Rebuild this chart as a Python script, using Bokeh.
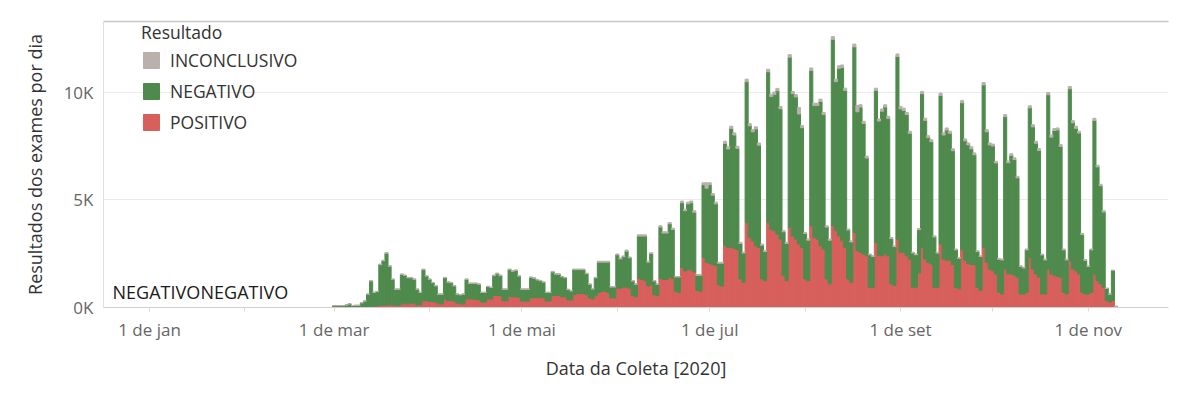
import pandas as pd
from bokeh.plotting import figure
from bokeh.models import (Range1d, FixedTicker, CustomJSTickFormatter, Legend, LegendItem,
                          LinearAxis, Label, ColumnDataSource)
from bokeh.embed import file_html
from bokeh.resources import INLINE

# ---------------- data (daily results, 2020-03-01 .. 2020-11-10) ----------------
start_date = "2020-03-01"
end_date = "2020-11-10"

positivo = [
    0,
    0, 0, 0, 0, 0, 0, 0,
    10, 20, 30, 40, 50, 60, 70,
    100, 100, 120, 120, 120, 100, 100,
    170, 170, 170, 200, 200, 120, 120,
    320, 320, 280, 280, 250, 170, 170,
    400, 320, 320, 300, 200, 170, 170,
    400, 400, 400, 380, 360, 250, 250,
    400, 400, 560, 560, 560, 320, 320,
    520, 500, 500, 480, 300, 300, 300,
    460, 460, 460, 460, 460, 300, 300,
    560, 560, 560, 500, 500, 350, 350,
    600, 650, 650, 650, 600, 450, 400,
    550, 700, 750, 750, 700, 450, 450,
    900, 900, 950, 950, 900, 550, 500,
    1360, 1300, 1250, 1000, 1050, 600, 550,
    1350, 1300, 1300, 1400, 1350, 750, 700,
    1860, 1700, 1750, 1750, 1650, 800, 750,
    2330, 2100, 2050, 2000, 1950, 1050, 1000,
    2870, 2800, 2800, 2750, 2700, 1330, 1170,
    3950, 3260, 3100, 2870, 2790, 1330, 1250,
    3950, 3640, 3570, 3410, 3180, 1480, 1250,
    3720, 3330, 3180, 2950, 2790, 1330, 1250,
    3800, 3260, 3180, 2870, 2720, 1330, 1100,
    3800, 3570, 3330, 3100, 2790, 1330, 1170,
    3490, 2640, 2570, 2490, 2410, 940, 940,
    3020, 2410, 2410, 2490, 2410, 1100, 1020,
    3180, 2570, 2570, 2410, 2250, 940, 940,
    1600, 2790, 2250, 2100, 2020, 940, 940,
    2950, 2250, 2200, 2200, 2000, 940, 870,
    2680, 2200, 2050, 2000, 2000, 940, 800,
    2790, 2100, 1790, 1710, 1560, 710, 630,
    1790, 1560, 1560, 1500, 1410, 630, 630,
    710, 2330, 1790, 1560, 1410, 630, 630,
    1790, 1560, 1500, 1450, 1410, 710, 630,
    2170, 1790, 1710, 1560, 710, 630, 630,
    710, 1560, 1250, 1100, 940, 330, 250,
    330, 50,
]

negativo = [
    90,
    90, 90, 90, 120, 170, 90, 100,
    90, 200, 270, 580, 1180, 640, 670,
    1890, 2070, 2400, 1800, 1190, 750, 750,
    1370, 1320, 1210, 1180, 1110, 730, 580,
    1440, 1140, 1030, 870, 750, 450, 450,
    980, 860, 830, 700, 420, 420, 450,
    910, 720, 720, 740, 720, 450, 450,
    570, 530, 920, 1010, 920, 530, 530,
    1240, 1180, 1220, 980, 550, 550, 550,
    940, 900, 820, 780, 720, 400, 400,
    1090, 990, 980, 930, 880, 490, 420,
    1160, 1110, 1110, 1110, 970, 630, 460,
    830, 1410, 1360, 1360, 1410, 500, 500,
    1550, 1360, 1410, 1670, 1410, 680, 580,
    1960, 2020, 2070, 1110, 1460, 630, 530,
    2390, 2160, 2160, 2490, 2280, 670, 720,
    3010, 2800, 3070, 3120, 2780, 700, 750,
    3380, 3450, 3660, 3220, 2870, 1010, 1060,
    4760, 4570, 5530, 5270, 4700, 1650, 1360,
    6550, 5190, 5070, 5430, 4760, 1570, 1350,
    7010, 6170, 6340, 6670, 6060, 2040, 1730,
    7920, 6610, 6610, 6050, 5570, 2110, 1880,
    7220, 6130, 6210, 6710, 6250, 2410, 2030,
    8670, 6930, 7790, 8060, 7300, 2270, 1880,
    8630, 6460, 6750, 6070, 4540, 1510, 1430,
    7070, 6260, 6720, 6830, 6380, 2110, 1810,
    8490, 6670, 6590, 6560, 5850, 1590, 1510,
    2020, 7150, 6450, 5800, 5690, 2340, 1590,
    6910, 5770, 6050, 5900, 5290, 1740, 1420,
    6840, 5550, 5510, 5380, 5100, 1660, 1570,
    7560, 6070, 5770, 5800, 5160, 1530, 1580,
    7080, 5170, 5510, 5380, 4620, 1280, 1210,
    1970, 6950, 6610, 6080, 5890, 1810, 1580,
    8100, 6360, 6730, 6810, 6080, 1970, 1580,
    8000, 6800, 6620, 6550, 2680, 1560, 1280,
    1970, 7140, 5290, 4560, 3500, 560, 370,
    1390, 0,
]

inconclusivo = [
    0,
    0, 0, 0, 0, 0, 0, 0,
    0, 0, 0, 10, 20, 10, 10,
    30, 30, 40, 30, 20, 10, 10,
    20, 20, 20, 20, 20, 10, 10,
    30, 20, 20, 20, 20, 10, 10,
    20, 20, 20, 20, 10, 10, 10,
    20, 20, 20, 20, 20, 10, 10,
    20, 20, 30, 30, 30, 10, 10,
    30, 30, 30, 20, 10, 10, 10,
    20, 20, 20, 20, 20, 10, 10,
    30, 30, 30, 20, 20, 10, 10,
    30, 30, 30, 30, 30, 20, 10,
    20, 40, 40, 40, 40, 20, 20,
    40, 40, 40, 50, 40, 20, 20,
    60, 60, 60, 40, 40, 20, 20,
    60, 60, 60, 60, 60, 20, 20,
    80, 70, 80, 80, 70, 30, 30,
    90, 250, 90, 80, 80, 40, 40,
    100, 100, 100, 100, 100, 50, 40,
    120, 100, 100, 100, 100, 50, 40,
    120, 110, 110, 110, 110, 50, 50,
    120, 110, 110, 300, 100, 50, 50,
    120, 110, 110, 110, 100, 60, 50,
    130, 120, 120, 120, 110, 50, 50,
    130, 300, 110, 100, 90, 40, 40,
    110, 100, 100, 110, 100, 50, 40,
    120, 110, 110, 100, 100, 40, 40,
    50, 110, 100, 90, 90, 50, 40,
    110, 100, 100, 100, 90, 40, 40,
    110, 90, 90, 90, 90, 40, 40,
    110, 100, 90, 90, 80, 40, 40,
    100, 80, 80, 80, 70, 30, 30,
    40, 100, 100, 90, 90, 40, 40,
    110, 90, 90, 90, 90, 40, 40,
    110, 100, 100, 90, 50, 40, 30,
    40, 100, 80, 70, 60, 10, 10,
    20, 0,
]

series_names = ["positivo", "negativo", "inconclusivo"]
legend_labels = ["INCONCLUSIVO", "NEGATIVO", "POSITIVO"]

x_tick_dates = ["2020-01-01", "2020-03-01", "2020-05-01", "2020-07-01", "2020-09-01", "2020-11-01"]
x_tick_labels = ["1 de jan", "1 de mar", "1 de mai", "1 de jul", "1 de set", "1 de nov"]
x_minor_dates = ["2020-02-01", "2020-04-01", "2020-06-01", "2020-08-01", "2020-10-01"]
y_tick_values = [0, 5000, 10000]
y_tick_labels = ["0K", "5K", "10K"]

# ---------------- styling ----------------
FONT = "Open Sans"
C_POS = "#d75f5c"
C_NEG = "#4f8a4d"
C_INC = "#bab0ac"
DAY_MS = 86400000.0


def ms(d):
    return pd.Timestamp(d).value / 1e6


dates = pd.date_range(start_date, end_date, freq="D")
src = ColumnDataSource(dict(date=dates, positivo=positivo, negativo=negativo,
                            inconclusivo=inconclusivo))

x0 = ms("2020-01-01")
p = figure(width=1192, height=386, x_axis_type="datetime",
           x_range=Range1d(x0 - 14.94 * DAY_MS, x0 + 331.06 * DAY_MS),
           y_range=Range1d(0, 13300),
           output_backend="svg", toolbar_location=None,
           min_border_left=103, min_border_right=24, min_border_top=21, min_border_bottom=79)
p.outline_line_color = None
p.background_fill_color = "white"

rs = p.vbar_stack(series_names, x="date", width=DAY_MS, source=src,
                  fill_color=[C_POS, C_NEG, C_INC], line_color=[C_POS, C_NEG, C_INC],
                  line_width=1)

# grids
p.xgrid.grid_line_color = None
p.ygrid.ticker = FixedTicker(ticks=y_tick_values[1:])
p.ygrid.grid_line_color = "#ebebeb"
p.ygrid.grid_line_width = 1

LOOKUP = """
    const i = tv.indexOf(tick);
    return i >= 0 ? lab[i] : '';
"""

# x axis
xt_ms = [ms(d) for d in x_tick_dates]
xa = p.xaxis[0]
xa.ticker = FixedTicker(ticks=xt_ms, minor_ticks=[ms(d) for d in x_minor_dates])
xa.formatter = CustomJSTickFormatter(args=dict(tv=xt_ms, lab=x_tick_labels), code=LOOKUP)
xa.axis_line_color = "#cfcfcf"
xa.major_tick_in = 0
xa.major_tick_out = 4
xa.minor_tick_in = 0
xa.minor_tick_out = 4
xa.major_tick_line_color = "#dadada"
xa.minor_tick_line_color = "#dadada"
xa.major_label_standoff = 6
xa.major_label_text_font = FONT
xa.major_label_text_font_size = "17px"
xa.major_label_text_color = "#666666"
xa.axis_label = "Data da Coleta [2020]"
xa.axis_label_text_font = FONT
xa.axis_label_text_font_size = "18px"
xa.axis_label_text_font_style = "normal"
xa.axis_label_text_color = "#333333"
xa.axis_label_standoff = 12

# y axis
ya = p.yaxis[0]
ya.ticker = FixedTicker(ticks=y_tick_values)
ya.formatter = CustomJSTickFormatter(args=dict(tv=y_tick_values, lab=y_tick_labels), code=LOOKUP)
ya.axis_line_color = "#e0e0e0"
ya.major_tick_line_color = None
ya.minor_tick_line_color = None
ya.major_tick_in = 0
ya.major_tick_out = 0
ya.minor_tick_in = 0
ya.minor_tick_out = 0
ya.major_label_standoff = 10
ya.major_label_text_font = FONT
ya.major_label_text_font_size = "17px"
ya.major_label_text_color = "#666666"
ya.axis_label = "Resultados dos exames por dia"
ya.axis_label_text_font = FONT
ya.axis_label_text_font_size = "18px"
ya.axis_label_text_font_style = "normal"
ya.axis_label_text_color = "#333333"
ya.axis_label_standoff = 14

# top border line
top_axis = LinearAxis(ticker=FixedTicker(ticks=[]), major_label_text_font_size="0px",
                      axis_line_color="#c8c8c8", axis_line_width=1.5,
                      major_tick_line_color=None, minor_tick_line_color=None)
p.add_layout(top_axis, "above")

# stray mark labels (as in the original)
for xd in ["2019-12-20", "2020-01-17 14:00"]:
    p.add_layout(Label(x=ms(xd), y=740, text="NEGATIVO", text_font=FONT,
                       text_font_size="18px", text_color="#1a1a1a",
                       text_baseline="middle", text_align="left"))

# legend
legend = Legend(items=[LegendItem(label=legend_labels[0], renderers=[rs[2]]),
                       LegendItem(label=legend_labels[1], renderers=[rs[1]]),
                       LegendItem(label=legend_labels[2], renderers=[rs[0]])],
                title="Resultado", location=(38, 173))
legend.title_text_font = FONT
legend.title_text_font_size = "17.5px"
legend.title_text_font_style = "normal"
legend.title_text_color = "#333333"
legend.title_standoff = 4
legend.label_text_font = FONT
legend.label_text_font_size = "17.5px"
legend.label_text_color = "#333333"
legend.glyph_width = 20
legend.glyph_height = 20
legend.label_height = 20
legend.label_standoff = 9
legend.spacing = 7
legend.padding = 0
legend.margin = 0
legend.border_line_color = None
legend.background_fill_alpha = 0
p.add_layout(legend)

open("out.html", "w").write(file_html(p, INLINE))
